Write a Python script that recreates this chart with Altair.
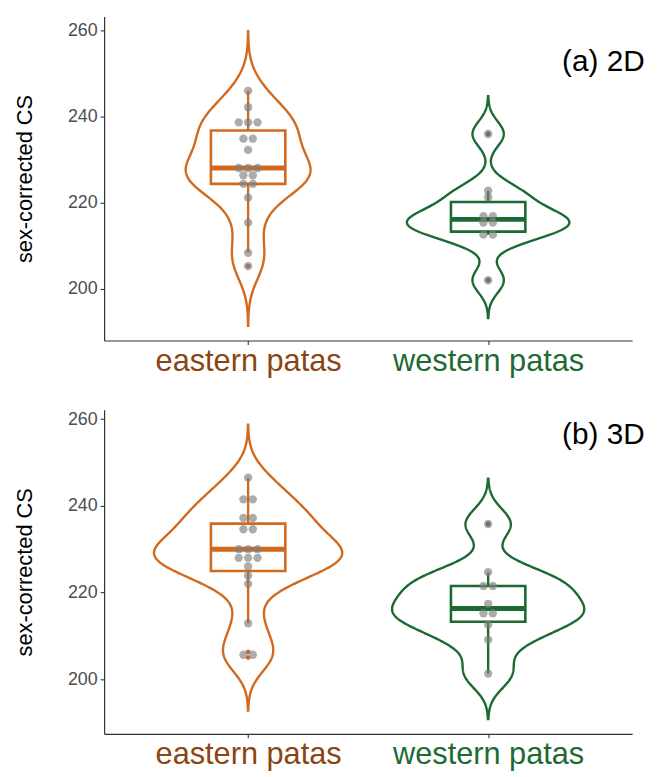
import altair as alt
import pandas as pd
import numpy as np

groups = ["eastern patas", "western patas"]
positions = [1, 2]
line_colors = ["#D2691E", "#1B6A31"]
label_colors = ["#8B4513", "#1D6B33"]

eastern_2d = [205.3, 208.4, 215.4, 221.2, 224.4, 224.4, 226.4, 226.4, 228.1, 228.1,
              228.1, 232.3, 234.9, 234.9, 238.7, 238.7, 238.7, 242.2, 246.0]
western_2d = [202.0, 212.6, 212.6, 215.4, 215.4, 216.9, 216.9, 221.3, 222.8, 236.0]
eastern_3d = [205.0, 206.3, 212.9, 222.0, 223.9, 226.0, 228.0, 228.0, 228.0, 230.0,
              230.0, 230.0, 234.6, 234.6, 237.2, 237.2, 241.5, 241.5, 246.5]
western_3d = [201.3, 209.1, 212.6, 215.2, 215.2, 217.4, 221.5, 221.5, 224.7, 235.8]

panel_labels = ["(a) 2D", "(b) 3D"]
label_y = [252.7, 256.3]
label_x = 2.48

PLOT_W = 533
PLOT_H = 327
X_DOMAIN = [0.4, 2.6]
UNIT = (X_DOMAIN[1] - X_DOMAIN[0]) / PLOT_W  # data units per pixel
BOX_HALF = 0.155
DOT_STEP = 9.5 * UNIT
# maximum half-width of each violin, in pixels (panel a, panel b)
VIOLIN_HALF_PX = [[63, 82], [95, 97]]


def nrd0(v):
    v = np.asarray(v, dtype=float)
    sd = v.std(ddof=1)
    iqr = np.percentile(v, 75) - np.percentile(v, 25)
    lo = min(sd, iqr / 1.34)
    return 0.9 * lo * len(v) ** (-0.2)


def kde_max(v, bw, lo, hi):
    v = np.asarray(v, dtype=float)
    xs = np.linspace(lo, hi, 512)
    d = np.exp(-0.5 * ((xs[:, None] - v[None, :]) / bw) ** 2).sum(axis=1)
    d /= len(v) * bw * np.sqrt(2 * np.pi)
    return d.max()


def build_panel(series, label, ly, half_px):
    rows = []
    for g, p, vals in zip(groups, positions, series):
        for v in vals:
            rows.append({"group": g, "pos": p, "value": v})
    df = pd.DataFrame(rows)

    bws = [nrd0(v) for v in series]
    exts = [[min(v) - 3 * b, max(v) + 3 * b] for v, b in zip(series, bws)]
    lo = min(e[0] for e in exts)
    hi = max(e[1] for e in exts)
    pad = 0.05 * (hi - lo)
    ydom = [lo - pad, hi + pad]

    yaxis = alt.Axis(values=[200, 220, 240, 260], title="sex-corrected CS",
                     titleFontSize=22, titleFontWeight="normal", titleColor="black",
                     titleFont="Liberation Sans", labelFont="Liberation Sans",
                     labelFontSize=18, labelColor="#4D4D4D", tickColor="#333333",
                     tickSize=4, tickWidth=1.1, domainColor="#333333", domainWidth=1.2,
                     grid=False, labelPadding=3, titlePadding=31)
    xaxis = alt.Axis(values=[1, 2],
                     labelExpr="datum.value == 1 ? 'eastern patas' : 'western patas'",
                     labelFontSize=31, labelFont="Liberation Sans", labelLimit=500,
                     labelColor={"condition": {"test": "datum.value == 1", "value": label_colors[0]},
                                 "value": label_colors[1]},
                     tickColor="#333333", tickSize=4, tickWidth=1.1, domainColor="#333333",
                     domainWidth=1.2, grid=False, title=None, labelPadding=2)
    xs = alt.Scale(domain=X_DOMAIN, nice=False, zero=False)
    ys = alt.Scale(domain=ydom, nice=False, zero=False)

    def X(f):
        return alt.X(f, type="quantitative", scale=xs, axis=xaxis)

    def X2(f):
        return alt.X2(f)

    def Y(f):
        return alt.Y(f, type="quantitative", scale=ys, axis=yaxis)

    stroke = alt.Stroke("group:N", scale=alt.Scale(domain=groups, range=line_colors), legend=None)
    fillc = alt.Color("group:N", scale=alt.Scale(domain=groups, range=line_colors), legend=None)

    base = alt.Chart(df)

    violins = []
    for g, p, vals, b, e, hp in zip(groups, positions, series, bws, exts, half_px):
        cscale = hp * UNIT / kde_max(vals, b, e[0], e[1])
        v = (base.transform_filter(alt.datum.group == g)
             .transform_density("value", groupby=["group", "pos"], bandwidth=b,
                                extent=e, steps=300, as_=["value", "density"])
             .transform_calculate(left=f"datum.pos - datum.density * {cscale}",
                                  right=f"datum.pos + datum.density * {cscale}")
             .mark_area(orient="horizontal", fillOpacity=0, strokeWidth=2.4)
             .encode(y=Y("value"), x=X("left"), x2=X2("right"), stroke=stroke))
        violins.append(v)

    stats = (base.transform_joinaggregate(q1="q1(value)", q3="q3(value)", groupby=["group", "pos"])
             .transform_calculate(lof="datum.q1 - 1.5 * (datum.q3 - datum.q1)",
                                  hif="datum.q3 + 1.5 * (datum.q3 - datum.q1)"))

    whisk = (stats.transform_filter("datum.value >= datum.lof && datum.value <= datum.hif")
             .transform_aggregate(wlo="min(value)", whi="max(value)", groupby=["group", "pos"])
             .mark_rule(strokeWidth=2.4)
             .encode(x=X("pos"), y=Y("wlo"), y2=alt.Y2("whi"), stroke=stroke))

    boxagg = (base.transform_aggregate(q1="q1(value)", q3="q3(value)", med="median(value)",
                                       groupby=["group", "pos"])
              .transform_calculate(bl=f"datum.pos - {BOX_HALF}", br=f"datum.pos + {BOX_HALF}"))
    box = boxagg.mark_rect(fill="white", strokeWidth=2.6).encode(
        x=X("bl"), x2=X2("br"), y=Y("q1"), y2=alt.Y2("q3"), stroke=stroke)
    med = boxagg.mark_rule(strokeWidth=5).encode(
        x=X("bl"), x2=X2("br"), y=Y("med"), stroke=stroke)

    outl = (stats.transform_filter("datum.value < datum.lof || datum.value > datum.hif")
            .mark_circle(size=24, opacity=1)
            .encode(x=X("pos"), y=Y("value"), color=fillc))

    dots = (base.transform_window(prev="lag(value)", groupby=["group"], sort=[alt.SortField("value")])
            .transform_calculate(nr="(datum.prev == null || datum.value - datum.prev > 1.4) ? 1 : 0")
            .transform_window(rowid="sum(nr)", groupby=["group"], sort=[alt.SortField("value")])
            .transform_joinaggregate(rowy="mean(value)", rowcnt="count()", groupby=["group", "rowid"])
            .transform_window(rk="row_number()", groupby=["group", "rowid"], sort=[alt.SortField("value")])
            .transform_calculate(dx=f"datum.pos + (datum.rk - (datum.rowcnt + 1) / 2) * {DOT_STEP}")
            .mark_circle(size=71, color="#808080", opacity=0.65)
            .encode(x=X("dx"), y=Y("rowy")))

    tdf = pd.DataFrame({"x": [label_x], "y": [ly], "t": [label]})
    text = alt.Chart(tdf).mark_text(fontSize=30, font="Liberation Sans", color="black",
                                    align="center", baseline="middle").encode(
        x=X("x"), y=Y("y"), text="t:N")

    return alt.layer(*violins, whisk, box, med, outl, dots, text).properties(
        width=PLOT_W, height=PLOT_H)


p1 = build_panel([eastern_2d, western_2d], panel_labels[0], label_y[0], VIOLIN_HALF_PX[0])
p2 = build_panel([eastern_3d, western_3d], panel_labels[1], label_y[1], VIOLIN_HALF_PX[1])

chart = (alt.vconcat(p1, p2, spacing=34)
         .resolve_scale(x="independent", y="independent", stroke="shared", color="shared")
         .configure(font="Liberation Sans")
         .configure_view(strokeWidth=0))

chart.save("out.html", embed_options={"renderer": "svg", "actions": False})
